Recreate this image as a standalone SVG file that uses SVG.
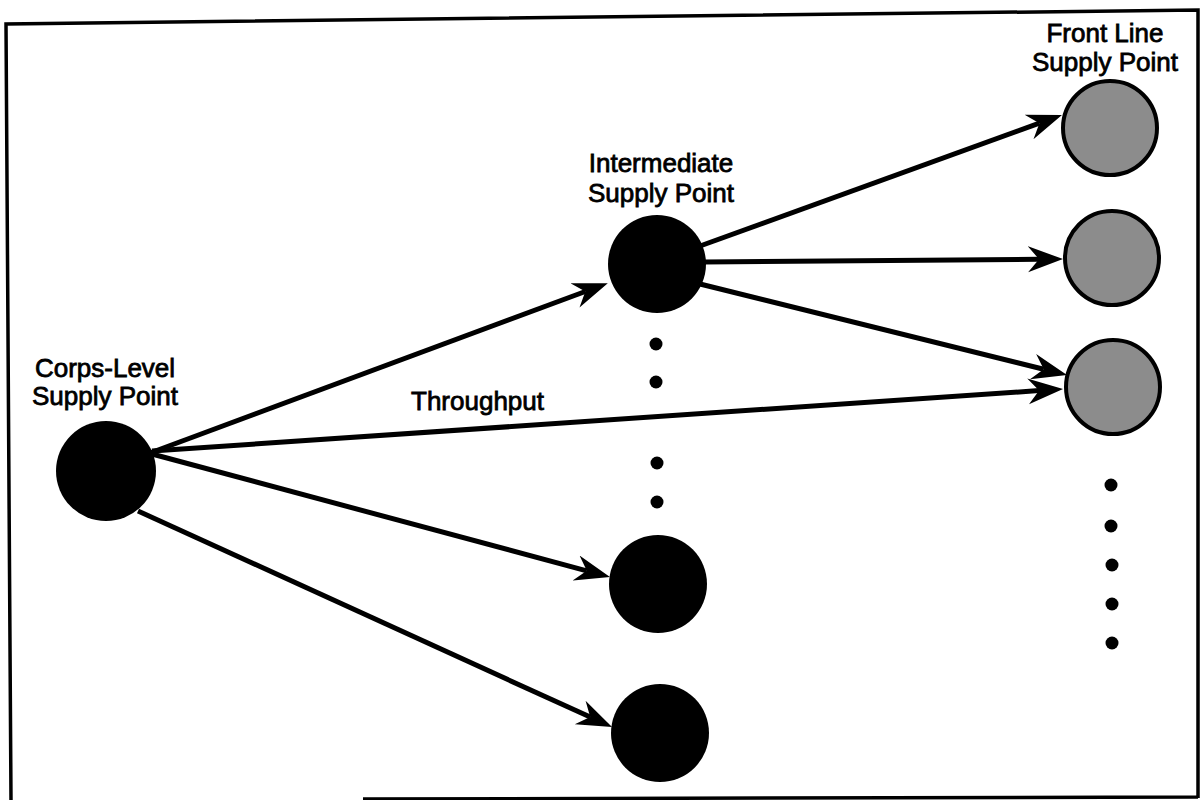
<svg xmlns="http://www.w3.org/2000/svg" width="1202" height="800" viewBox="0 0 1202 800">
<style>
  .lbl { font-family: "Liberation Sans", Arial, sans-serif; font-size: 26px; fill: #000; stroke: #000; stroke-width: 0.8; }
  .mid { text-anchor: middle; }
  .black { fill: #000; }
  .front { fill: #8c8c8c; stroke: #000; stroke-width: 4; }
  .edge { stroke: #000; stroke-width: 5; fill: none; marker-end: url(#arrow); }
  .dot { fill: #000; }
  .frame { stroke: #000; stroke-width: 3.5; fill: none; }
</style>
<defs>
  <marker id="arrow" markerUnits="userSpaceOnUse" markerWidth="38" markerHeight="30" viewBox="0 -15 38 30" refX="11" refY="0" orient="auto">
    <path d="M35,0 L0,-13 L11,0 L0,13 Z" fill="#000"/>
  </marker>
</defs>
<rect width="1202" height="800" fill="#fff"/>
<path class="frame" d="M11,800 L6,24 L1198,10 L1198,798 M363,799 L1198,797"/>

<g id="connectors">
  <line class="edge" x1="150" y1="453" x2="585.3" y2="291.5"/>
  <line class="edge" x1="152" y1="451" x2="1039.1" y2="390.6"/>
  <line class="edge" x1="152" y1="454" x2="586.8" y2="570.8"/>
  <line class="edge" x1="138" y1="511" x2="590.2" y2="717.1"/>
  <line class="edge" x1="700" y1="246" x2="1039.4" y2="123.2"/>
  <line class="edge" x1="704" y1="262" x2="1039" y2="259.2"/>
  <line class="edge" x1="700" y1="284" x2="1043.7" y2="369.3"/>
</g>

<g id="corps">
  <circle class="black" cx="106" cy="471" r="50"/>
  <text class="lbl mid" x="105" y="377">Corps-Level</text>
  <text class="lbl mid" x="105" y="405">Supply Point</text>
</g>

<g id="intermediate">
  <circle class="black" cx="657" cy="264" r="49"/>
  <text class="lbl mid" x="661" y="172">Intermediate</text>
  <text class="lbl mid" x="661" y="202">Supply Point</text>
</g>

<g id="intermediate-dots">
  <circle class="dot" cx="656" cy="344" r="6.5"/>
  <circle class="dot" cx="656" cy="382" r="6.5"/>
  <circle class="dot" cx="657" cy="463" r="6.5"/>
  <circle class="dot" cx="657" cy="502" r="6.5"/>
</g>

<g id="intermediate-3">
  <circle class="black" cx="658" cy="584" r="49"/>
</g>

<g id="intermediate-4">
  <circle class="black" cx="660" cy="733" r="49"/>
</g>

<g id="front-1">
  <circle class="front" cx="1110" cy="128" r="47"/>
  <text class="lbl mid" x="1105" y="42">Front Line</text>
  <text class="lbl mid" x="1105" y="71">Supply Point</text>
</g>

<g id="front-2">
  <circle class="front" cx="1112" cy="258" r="47"/>
</g>

<g id="front-3">
  <circle class="front" cx="1113" cy="387" r="47"/>
</g>

<g id="front-dots">
  <circle class="dot" cx="1111" cy="485" r="6.5"/>
  <circle class="dot" cx="1111" cy="526" r="6.5"/>
  <circle class="dot" cx="1112" cy="565" r="6.5"/>
  <circle class="dot" cx="1112" cy="604" r="6.5"/>
  <circle class="dot" cx="1112" cy="643" r="6.5"/>
</g>

<g id="throughput-label">
  <text class="lbl" x="411" y="410">Throughput</text>
</g>
</svg>
